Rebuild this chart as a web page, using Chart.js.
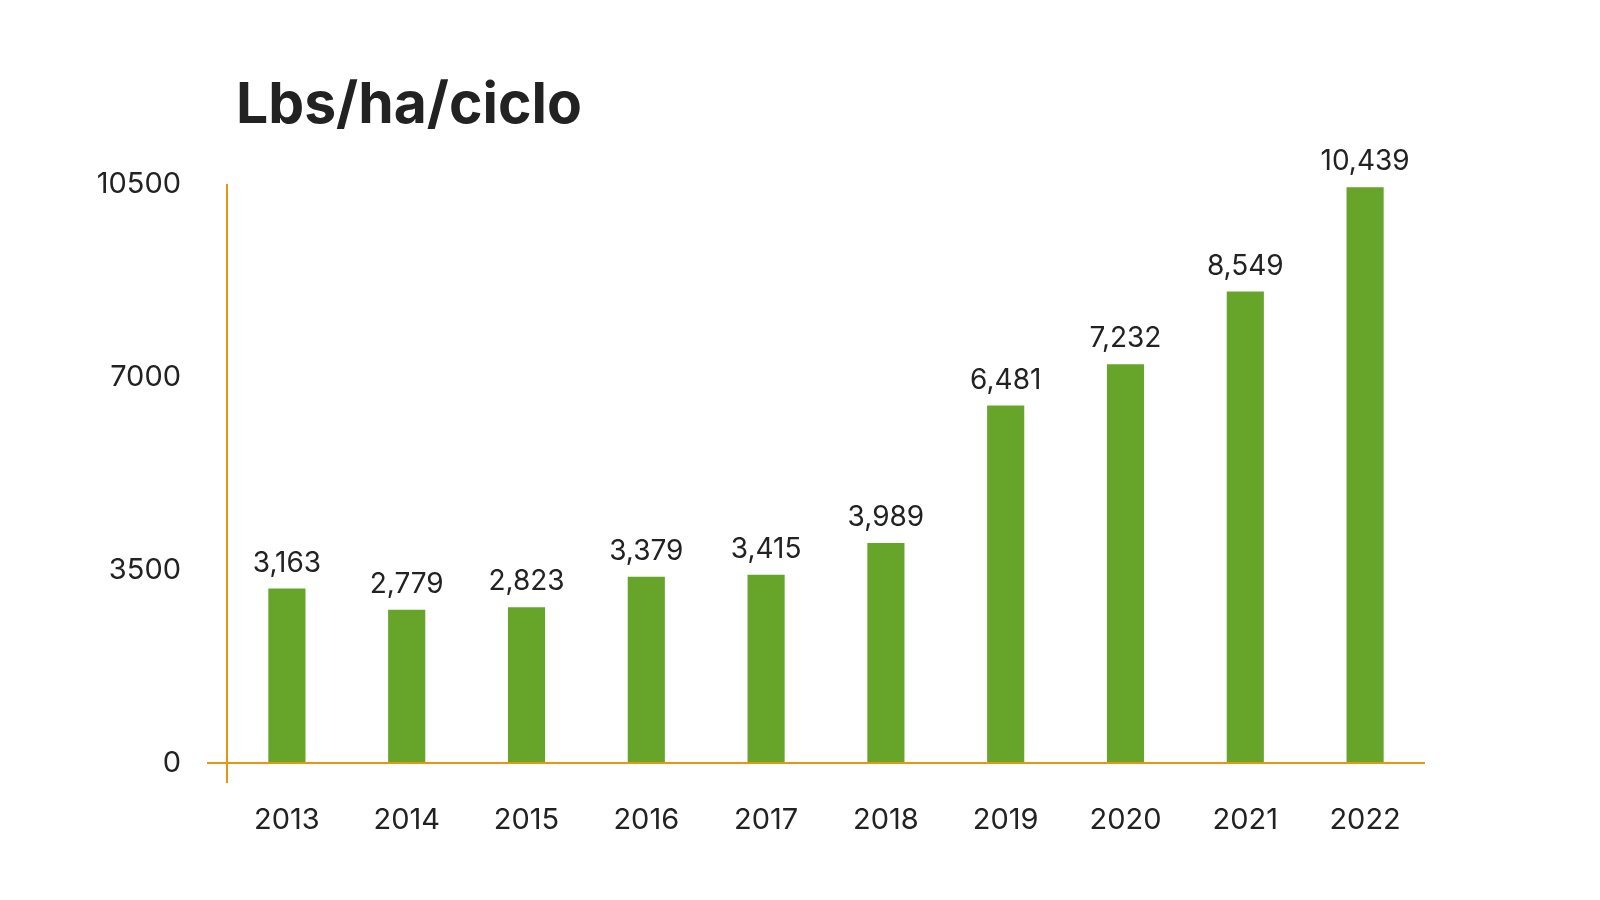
<!DOCTYPE html>
<html><head><meta charset="utf-8">
<script src="https://cdn.jsdelivr.net/npm/chart.js@4"></script>
<style>html,body{margin:0;padding:0;background:#fff}#w{width:1600px;height:900px}</style>
</head><body><div id="w"><canvas id="c"></canvas></div>
<script>
const years = ['2013','2014','2015','2016','2017','2018','2019','2020','2021','2022'];
const values = [3163,2779,2823,3379,3415,3989,6481,7232,8549,10439];
const yTicks = [0,3500,7000,10500];
const title = 'Lbs/ha/ciclo';
const orange = '#e8950f', green = '#66a52a', txt = '#222';
const font = 'Inter, "Noto Sans", sans-serif';

const deco = {
  id:'deco',
  afterDraw(ch){
    const c = ch.ctx, a = ch.chartArea, y = ch.scales.y;
    c.save();
    c.fillStyle = txt; c.font = 'bold 57px ' + font; c.textBaseline='middle'; c.textAlign='left';
    c.fillText(title, 236, 106);
    c.strokeStyle = orange; c.lineWidth = 2;
    const y0 = y.getPixelForValue(0);
    c.beginPath(); c.moveTo(a.left, a.top); c.lineTo(a.left, y0+20);
    c.moveTo(a.left-20, y0); c.lineTo(a.right, y0); c.stroke();
    c.font = '28px ' + font; c.textAlign='center'; c.textBaseline='alphabetic';
    ch.getDatasetMeta(0).data.forEach((b,i)=>{
      c.fillText(values[i].toLocaleString('en-US'), b.x, b.y-17);
    });
    c.restore();
  }
};

new Chart(document.getElementById('c'), {
  type:'bar',
  data:{labels:years, datasets:[{data:values, backgroundColor:green, barPercentage:0.31, categoryPercentage:1}]},
  options:{
    responsive:true, maintainAspectRatio:false, animation:false,
    layout:{padding:{left:0, top:184, right:175, bottom:0}},
    plugins:{legend:{display:false}, tooltip:{enabled:false}},
    scales:{
      x:{grid:{display:false}, border:{display:false},
         ticks:{color:txt, font:{size:29, family:font}, padding:32},
         afterFit(s){s.height = 137;}},
      y:{min:0, max:10500, afterBuildTicks(s){s.ticks = yTicks.map(v=>({value:v}));},
         grid:{display:false}, border:{display:false},
         ticks:{color:txt, font:{size:29, family:font}, padding:38, callback:v=>String(v)},
         afterFit(s){s.width = 227;}}
    }
  },
  plugins:[deco]
});
</script></body></html>
